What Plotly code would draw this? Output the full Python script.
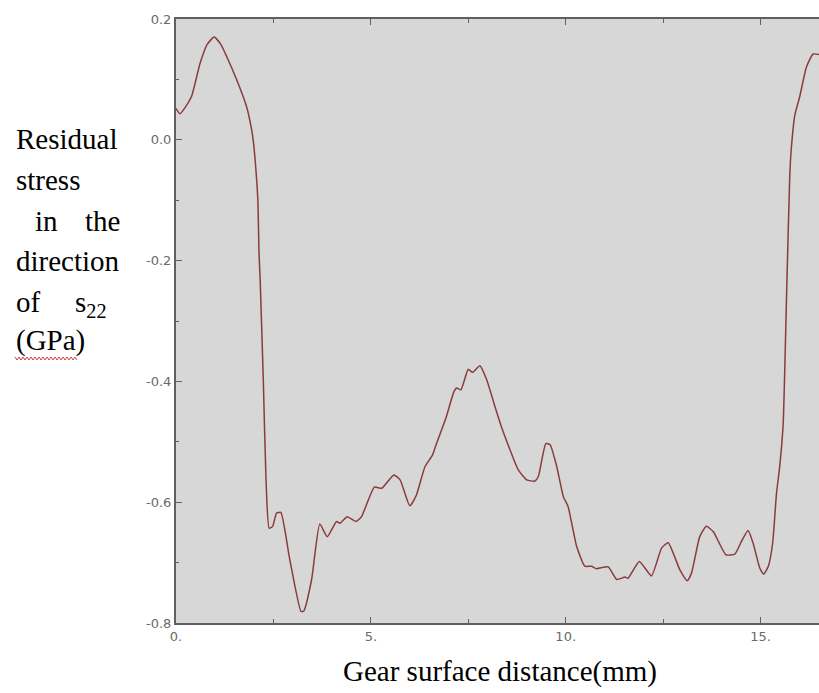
import plotly.graph_objects as go

# ---- data ----
distance_mm = [0.0, 0.1, 0.25, 0.4, 0.62, 0.8, 0.98, 1.15, 1.3, 1.56, 1.81, 1.94, 1.98, 2.03, 2.1,
               2.13, 2.16, 2.24, 2.31, 2.39, 2.48, 2.58, 2.69, 2.92, 3.21, 3.28, 3.48, 3.69, 3.88,
               4.12, 4.21, 4.39, 4.62, 4.76, 5.09, 5.28, 5.59, 5.75, 6.0, 6.17, 6.39, 6.58, 6.69,
               6.94, 7.12, 7.2, 7.31, 7.5, 7.61, 7.8, 7.97, 8.21, 8.35, 8.57, 8.78, 9.0, 9.21, 9.3,
               9.49, 9.6, 9.77, 9.94, 10.06, 10.28, 10.49, 10.66, 10.79, 11.09, 11.31, 11.52, 11.6,
               11.89, 12.2, 12.46, 12.63, 12.93, 13.12, 13.23, 13.44, 13.61, 13.79, 14.11, 14.34,
               14.51, 14.68, 14.81, 14.98, 15.08, 15.2, 15.31, 15.41, 15.49, 15.58, 15.67, 15.75,
               15.79, 15.88, 16.0, 16.18, 16.35, 16.5]
stress_gpa = [0.052, 0.043, 0.055, 0.072, 0.127, 0.158, 0.170, 0.158, 0.138, 0.099, 0.055, 0.017, 0.0,
              -0.033, -0.099, -0.187, -0.232, -0.397, -0.563, -0.643, -0.640, -0.618, -0.617, -0.695,
              -0.781, -0.780, -0.728, -0.636, -0.657, -0.632, -0.635, -0.624, -0.632, -0.624, -0.575,
              -0.577, -0.555, -0.563, -0.606, -0.588, -0.541, -0.522, -0.502, -0.458, -0.419, -0.411,
              -0.414, -0.380, -0.385, -0.374, -0.397, -0.447, -0.475, -0.513, -0.546, -0.563, -0.565,
              -0.557, -0.503, -0.505, -0.541, -0.591, -0.607, -0.673, -0.706, -0.706, -0.710, -0.707,
              -0.728, -0.724, -0.726, -0.698, -0.722, -0.676, -0.667, -0.712, -0.730, -0.717, -0.657,
              -0.640, -0.649, -0.687, -0.686, -0.665, -0.647, -0.668, -0.709, -0.719, -0.706, -0.668,
              -0.585, -0.542, -0.471, -0.252, -0.059, -0.014, 0.041, 0.070, 0.121, 0.142, 0.141]

x_tickvals = [0, 5, 10, 15]
x_ticktext = ["0.", "5.", "10.", "15."]
y_tickvals = [-0.8, -0.6, -0.4, -0.2, 0.0, 0.2]
y_ticktext = ["-0.8", "-0.6", "-0.4", "-0.2", "0.0", "0.2"]

W, H = 819, 693
PLOT_L, PLOT_R, PLOT_T, PLOT_B = 176, 819, 19, 623
L, R, T, B = PLOT_L, W - PLOT_R, PLOT_T, H - PLOT_B
PW, PH = PLOT_R - PLOT_L, PLOT_B - PLOT_T

def px(xp):
    return (xp - PLOT_L) / PW

def py(yp):
    return 1 - (yp - PLOT_T) / PH

fig = go.Figure()
fig.add_trace(go.Scatter(
    x=distance_mm, y=stress_gpa, mode="lines",
    line=dict(color="#8a3c3c", width=1.5, shape="spline", smoothing=0.5),
    hoverinfo="skip", showlegend=False))

axis_font = dict(family="DejaVu Sans", size=13, color="#6a6a6a")
fig.update_layout(
    width=W, height=H,
    margin=dict(l=L, r=R, t=T, b=B, pad=0),
    paper_bgcolor="white", plot_bgcolor="#d7d7d7",
    showlegend=False,
    xaxis=dict(range=[0, 16.5], tickvals=x_tickvals, ticktext=x_ticktext,
               ticks="inside", ticklen=6, tickcolor="#606060", tickwidth=1,
               minor=dict(dtick=2.5, tick0=0, ticks="inside", ticklen=4, tickcolor="#606060"),
               showline=True, linecolor="#606060", linewidth=2, mirror="allticks",
               showgrid=False, zeroline=False, tickfont=axis_font),
    yaxis=dict(range=[-0.8, 0.2], tickvals=y_tickvals, ticktext=y_ticktext,
               ticks="inside", ticklen=6, tickcolor="#606060", tickwidth=1,
               minor=dict(dtick=0.1, tick0=0, ticks="inside", ticklen=3, tickcolor="#606060"),
               showline=True, linecolor="#606060", linewidth=2, mirror=False,
               showgrid=False, zeroline=False, tickfont=axis_font),
)

serif = dict(family="Liberation Serif", size=29, color="black")
label_words = [
    ("Residual", 14, 139),
    ("stress", 14, 180),
    ("in", 33, 221),
    ("the", 83, 221),
    ("direction", 14, 261),
    ("of", 14, 302),
    ("s<sub>22</sub>", 73, 304),
    ("(GPa)", 14, 341),
]
for txt, xp, yp in label_words:
    fig.add_annotation(text=txt, xref="paper", yref="paper", x=px(xp), y=py(yp),
                       xanchor="left", yanchor="middle", showarrow=False, font=serif)

fig.add_annotation(text="Gear surface distance(mm)", xref="paper", yref="paper",
                   x=px(500), y=py(671), xanchor="center", yanchor="middle",
                   showarrow=False, font=serif)

# spell-check squiggle under (GPa)
pts = []
xx = 15
i = 0
while xx <= 77:
    yy = 357 if i % 2 == 0 else 360
    pts.append((px(xx), py(yy)))
    xx += 2
    i += 1
path = "M " + " L ".join(f"{a:.5f},{b:.5f}" for a, b in pts)
fig.add_shape(type="path", path=path, xref="paper", yref="paper",
              line=dict(color="#d04040", width=1))

fig.write_html("out.html", config={"displayModeBar": False},
               post_script="document.body.style.margin='0px';document.body.style.overflow='hidden';")
